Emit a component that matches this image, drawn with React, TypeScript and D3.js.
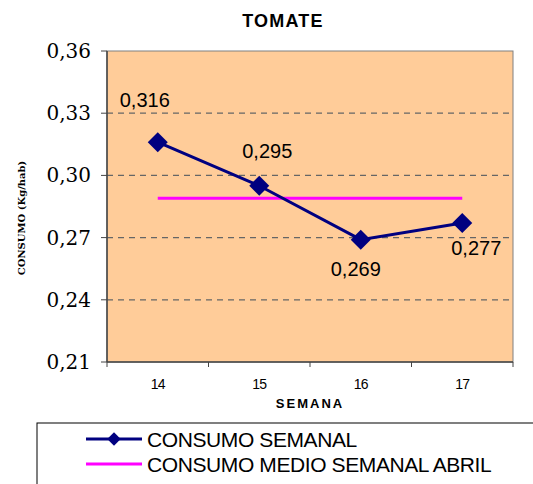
import React from 'react';
import * as d3 from 'd3';

const weeks = ['14', '15', '16', '17'];
const weeklyValues = [0.316, 0.295, 0.269, 0.277];
const weeklyLabels = ['0,316', '0,295', '0,269', '0,277'];
const monthlyMean = 0.289;
const yTicks = [0.21, 0.24, 0.27, 0.30, 0.33, 0.36];
const seriesNames = ['CONSUMO SEMANAL', 'CONSUMO MEDIO SEMANAL ABRIL'];

const W = 533;
const H = 484;
const SERIF = "'DejaVu Serif', serif";
const SANS = "'Liberation Sans', Arial, sans-serif";

const App = () => {
  const left = 107, right = 513, top = 51, bottom = 362;

  const x = d3.scaleBand<string>().domain(weeks).range([left, right]);
  const y = d3.scaleLinear().domain([0.21, 0.36]).range([bottom, top]);
  const cx = (w: string) => (x(w) as number) + x.bandwidth() / 2;

  const line = d3.line<number>()
    .x((_, i) => cx(weeks[i]))
    .y(d => y(d));

  // where each value label sits relative to its marker
  const labelOffsets = [[-13, -35], [8, -28], [-5, 36], [14, 32]];

  // square turned 45deg gives the excel diamond
  const marker = d3.symbol().type(d3.symbolSquare).size(200)();
  const legendMarker = d3.symbol().type(d3.symbolSquare).size(90)();
  const fmt = (v: number) => v.toFixed(2).replace('.', ',');

  return (
    <svg width={W} height={H} style={{ position: 'absolute', left: 0, top: 0, background: '#fff' }}>
      <text x={283} y={27} textAnchor="middle" fontFamily={SANS} fontWeight="bold"
        fontSize={18} letterSpacing={1.2}>TOMATE</text>

      <rect x={left} y={top} width={right - left} height={bottom - top} fill="#FFCC99" stroke="#808080" strokeWidth={1} />

      {yTicks.slice(1, -1).map(t => (
        <line key={t} x1={left} x2={right} y1={y(t)} y2={y(t)} stroke="#666" strokeWidth={1.2} strokeDasharray="6,5" />
      ))}

      {/* axes */}
      <line x1={left} x2={left} y1={top} y2={bottom} stroke="#444" strokeWidth={1.5} />
      <line x1={left} x2={right} y1={bottom} y2={bottom} stroke="#444" strokeWidth={1.5} />
      {yTicks.map(t => (
        <g key={t}>
          <line x1={left - 6} x2={left} y1={y(t)} y2={y(t)} stroke="#444" strokeWidth={1} />
          <text x={91} y={y(t) + 7} textAnchor="end" style={{ fontFamily: SERIF, fontSize: 20 }}>{fmt(t)}</text>
        </g>
      ))}
      {[...weeks.map(w => x(w) as number), right].map((p, i) => (
        <line key={i} x1={p} x2={p} y1={bottom} y2={bottom + 5} stroke="#444" strokeWidth={1} />
      ))}
      {weeks.map(w => (
        <text key={w} x={cx(w)} y={389} textAnchor="middle" fontFamily={SANS} fontSize={14} letterSpacing={-0.8}>{w}</text>
      ))}
      <text x={310} y={408} textAnchor="middle" fontFamily={SANS} fontWeight="bold" fontSize={13}
        letterSpacing={2}>SEMANA</text>
      <text transform="translate(25,218) rotate(-90)" textAnchor="middle"
        style={{ fontFamily: SERIF, fontWeight: 'bold', fontSize: 10 }}>CONSUMO (Kg/hab)</text>

      {/* mean line */}
      <line x1={cx(weeks[0])} x2={cx(weeks[weeks.length - 1])} y1={y(monthlyMean)} y2={y(monthlyMean)}
        stroke="#FF00FF" strokeWidth={3} />

      {/* weekly series */}
      <path d={line(weeklyValues) || ''} fill="none" stroke="#000080" strokeWidth={3} />
      {weeklyValues.map((v, i) => (
        <path key={i} d={marker || ''} transform={`translate(${cx(weeks[i])},${y(v)}) rotate(45)`} fill="#000080" />
      ))}
      {weeklyValues.map((v, i) => (
        <text key={i} x={cx(weeks[i]) + labelOffsets[i][0]} y={y(v) + labelOffsets[i][1]} textAnchor="middle"
          fontFamily={SANS} fontSize={20}>{weeklyLabels[i]}</text>
      ))}

      {/* legend */}
      <rect x={37} y={423} width={W} height={H} fill="#fff" stroke="#000" strokeWidth={1} />
      {seriesNames.map((name, i) => {
        const ly = 439 + i * 25;
        return (
          <g key={name}>
            <line x1={86} x2={142} y1={ly} y2={ly} stroke={i === 0 ? '#000080' : '#FF00FF'} strokeWidth={3} />
            {i === 0 && <path d={legendMarker || ''} transform={`translate(114,${ly}) rotate(45)`} fill="#000080" />}
            <text x={147} y={ly + 8} fontFamily={SANS} fontSize={21} letterSpacing={-0.4}>{name}</text>
          </g>
        );
      })}
    </svg>
  );
};

export default App;
